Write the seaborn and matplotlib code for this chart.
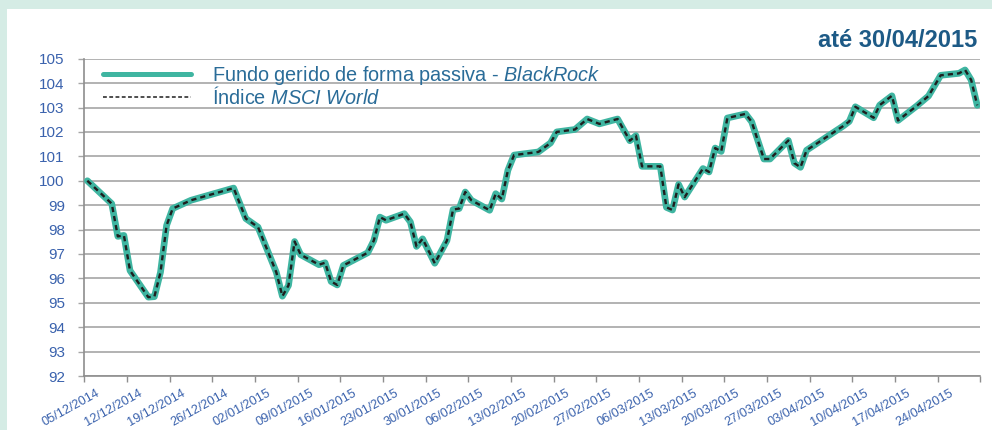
import matplotlib
matplotlib.use("Agg")
import matplotlib.pyplot as plt
import matplotlib.transforms as mtransforms
from matplotlib.lines import Line2D
from matplotlib.patches import Rectangle
import pandas as pd
import seaborn as sns

# values (vertices of the line)
datas = [
    "05/12/2014", "09/12/2014", "10/12/2014", "11/12/2014", "12/12/2014",
    "15/12/2014", "16/12/2014", "17/12/2014", "18/12/2014", "19/12/2014",
    "22/12/2014", "29/12/2014", "31/12/2014", "02/01/2015", "05/01/2015",
    "06/01/2015", "07/01/2015", "08/01/2015", "09/01/2015", "12/01/2015",
    "13/01/2015", "14/01/2015", "15/01/2015", "16/01/2015", "20/01/2015",
    "21/01/2015", "22/01/2015", "23/01/2015", "26/01/2015", "27/01/2015",
    "28/01/2015", "29/01/2015", "31/01/2015", "02/02/2015", "03/02/2015",
    "04/02/2015", "05/02/2015", "06/02/2015", "09/02/2015", "10/02/2015",
    "11/02/2015", "12/02/2015", "13/02/2015", "17/02/2015", "19/02/2015",
    "20/02/2015", "23/02/2015", "25/02/2015", "27/02/2015", "02/03/2015",
    "04/03/2015", "05/03/2015", "06/03/2015", "09/03/2015", "10/03/2015",
    "11/03/2015", "12/03/2015", "13/03/2015", "16/03/2015", "17/03/2015",
    "18/03/2015", "19/03/2015", "20/03/2015", "23/03/2015", "24/03/2015",
    "26/03/2015", "27/03/2015", "30/03/2015", "31/03/2015", "01/04/2015",
    "02/04/2015", "08/04/2015", "09/04/2015", "10/04/2015", "13/04/2015",
    "14/04/2015", "16/04/2015", "17/04/2015", "20/04/2015", "22/04/2015",
    "24/04/2015", "27/04/2015", "28/04/2015", "29/04/2015", "30/04/2015",
]
fundo_passivo = [
    100.00, 99.06, 97.72, 97.76, 96.32,
    95.23, 95.25, 96.25, 98.17, 98.86,
    99.20, 99.70, 98.45, 98.10, 96.25,
    95.27, 95.71, 97.51, 96.97, 96.56,
    96.64, 95.87, 95.73, 96.53, 97.05,
    97.55, 98.51, 98.38, 98.65, 98.31,
    97.31, 97.62, 96.62, 97.55, 98.82,
    98.86, 99.54, 99.20, 98.79, 99.47,
    99.25, 100.43, 101.05, 101.18, 101.55,
    102.00, 102.10, 102.53, 102.33, 102.53,
    101.64, 101.85, 100.59, 100.59, 98.91,
    98.80, 99.85, 99.33, 100.50, 100.36,
    101.34, 101.20, 102.57, 102.74, 102.41,
    100.89, 100.89, 101.65, 100.72, 100.55,
    101.25, 102.24, 102.43, 103.03, 102.58,
    103.10, 103.48, 102.47, 103.05, 103.47,
    104.32, 104.40, 104.54, 104.13, 103.09,
]
# the index line sits exactly on the fund line in the chart
msci_world = list(fundo_passivo)

rotulos_x = [
    "05/12/2014", "12/12/2014", "19/12/2014", "26/12/2014", "02/01/2015",
    "09/01/2015", "16/01/2015", "23/01/2015", "30/01/2015", "06/02/2015",
    "13/02/2015", "20/02/2015", "27/02/2015", "06/03/2015", "13/03/2015",
    "20/03/2015", "27/03/2015", "03/04/2015", "10/04/2015", "17/04/2015",
    "24/04/2015",
]
fim_eixo = "01/05/2015"
rotulos_y = list(range(92, 106))

titulo = "até 30/04/2015"
nome_fundo = "Fundo gerido de forma passiva - $\\mathit{BlackRock}$"
nome_indice = "Índice $\\mathit{MSCI\\ World}$"

teal = "#3fb5a1"
azul_ticks = "#3a62ad"
azul_texto = "#2a6c98"
azul_titulo = "#1d5a86"
cinza = "#a6a6a6"

sns.set_style("white")
plt.rcParams["font.family"] = ["Liberation Sans", "DejaVu Sans"]
plt.rcParams["mathtext.fontset"] = "custom"
plt.rcParams["mathtext.rm"] = "Liberation Sans"
plt.rcParams["mathtext.it"] = "Liberation Sans:italic"

df = pd.DataFrame({
    "data": pd.to_datetime(datas, format="%d/%m/%Y"),
    "fundo": fundo_passivo,
    "indice": msci_world,
})
# points sit in the middle of each day, like the original date axis
df["x"] = df["data"] + pd.Timedelta(hours=12)

fig = plt.figure(figsize=(9.92, 4.3), dpi=100, facecolor="#d5ece5")
fig.patches.append(Rectangle((7 / 992, 0), 1, 421 / 430, transform=fig.transFigure,
                             facecolor="white", edgecolor="none", zorder=-5))
ax = fig.add_axes([84.3 / 992, 1 - 376 / 430, 896 / 992, 317.3 / 430])
ax.set_facecolor("white")

sns.lineplot(data=df, x="x", y="fundo", ax=ax, color=teal, lw=4.8,
             solid_joinstyle="round", solid_capstyle="round", zorder=3)
sns.lineplot(data=df, x="x", y="indice", ax=ax, color="#1e1e1e", lw=1.7,
             linestyle=(0, (2.2, 1.7)), zorder=4)

ticks_x = list(pd.to_datetime(rotulos_x, format="%d/%m/%Y"))
fim = pd.to_datetime(fim_eixo, format="%d/%m/%Y")
ax.set_xlim(ticks_x[0], fim)
ax.set_xticks(ticks_x + [fim])
ax.set_xticklabels(rotulos_x + [""], rotation=29, ha="right", va="top",
                   rotation_mode="anchor", fontsize=9.2, color=azul_ticks)

ax.set_ylim(rotulos_y[0], rotulos_y[-1])
ax.set_yticks(rotulos_y)
ax.set_yticklabels([str(v) for v in rotulos_y], fontsize=11, color=azul_ticks)

ax.grid(axis="y", color=cinza, lw=1.2)
ax.set_axisbelow(True)
for s in ["top", "right"]:
    ax.spines[s].set_visible(False)
for s in ["left", "bottom"]:
    ax.spines[s].set_color("#8e8e8e")
    ax.spines[s].set_linewidth(1.2)
ax.tick_params(axis="x", length=4, width=1, color="#8e8e8e", pad=4, direction="out", bottom=True)
ax.tick_params(axis="y", length=4, width=1, color=cinza, pad=10, direction="out", left=True)
ax.set_xlabel("")
ax.set_ylabel("")

handles = [
    Line2D([], [], color=teal, lw=3.6),
    Line2D([], [], color="#1e1e1e", lw=1.1, linestyle=(0, (2.5, 1.6))),
]
leg = ax.legend(handles, [nome_fundo, nome_indice], loc="upper left",
                bbox_to_anchor=(0.021, 0.982), frameon=False, fontsize=14.3,
                handlelength=4.4, handletextpad=1.1, labelspacing=-0.07,
                borderpad=0, borderaxespad=0)
for t in leg.get_texts():
    t.set_color(azul_texto)

fig.text(977 / 992, 1 - 47 / 430, titulo, ha="right", va="baseline",
         fontsize=17, fontweight="bold", color=azul_titulo)

# the date labels sit a little to the right of their ticks in the original
fig.canvas.draw()
off = mtransforms.ScaledTranslation(12 / 100, 0, fig.dpi_scale_trans)
for lab in ax.get_xticklabels():
    lab.set_transform(lab.get_transform() + off)

fig.savefig("out.png", dpi=100, facecolor=fig.get_facecolor())
